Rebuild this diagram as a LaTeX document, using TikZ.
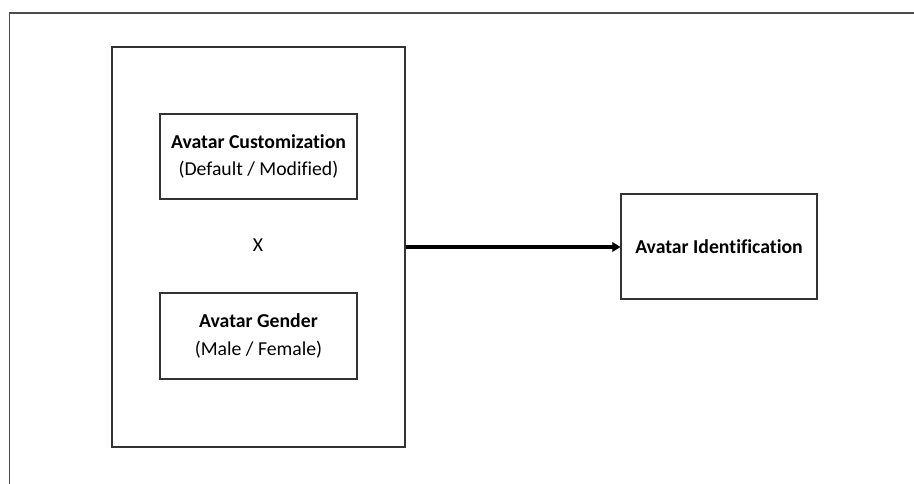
\documentclass[tikz,border=0pt]{standalone}
\usepackage{fontspec}
\setmainfont{Carlito}[Ligatures=NoCommon]
\usetikzlibrary{arrows.meta}
\begin{document}
\begin{tikzpicture}[x=0.75pt,y=-0.75pt,
  box/.style={draw=black!80,line width=0.8pt,rectangle,inner sep=0pt,align=center,
    font=\fontsize{14.8}{20.5}\selectfont},
  frameline/.style={draw=black!70,line width=1.1pt}]
\useasboundingbox (0,0) rectangle (914,484);
\coordinate (ftl) at (9.5,13);
\coordinate (ftr) at (914,13);
\coordinate (fbl) at (9.5,484);
\draw[frameline] (fbl) -- (ftl) -- (ftr);
\node[box,minimum width=293*0.75pt,minimum height=400*0.75pt] (outer) at (258.5,247) {};
\node[box,minimum width=197*0.75pt,minimum height=85*0.75pt] (cust) at (258.5,156.5)
  {\textbf{Avatar Customization}\\(Default / Modified)};
\node[box,minimum width=197*0.75pt,minimum height=86*0.75pt] (gender) at (258.5,336)
  {\textbf{Avatar Gender}\\(Male / Female)};
\node[font=\fontsize{14.8}{20}\selectfont,inner sep=0pt] (x) at (258,245) {X};
\node[box,minimum width=196*0.75pt,minimum height=105*0.75pt] (ident) at (719,246.5)
  {\textbf{Avatar Identification}};
\draw[line width=2.7pt,-{Triangle[length=6pt,width=7pt]}] (outer.east |- 0,247) -- (ident.west |- 0,247);
\end{tikzpicture}
\end{document}
